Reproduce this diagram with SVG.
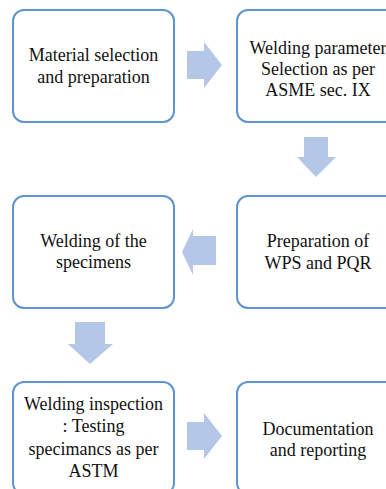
<svg xmlns="http://www.w3.org/2000/svg" width="386" height="489" viewBox="0 0 386 489">
<style>
.box{fill:#fff;stroke:#5f93d3;stroke-width:2}
.arr{fill:#b4c7e7}
.t{font-family:'Liberation Serif','DejaVu Serif','Noto Serif',serif;font-size:18px;fill:#111;text-anchor:middle}
</style>
<rect width="386" height="489" fill="#fff"/>
<g id="connectors">
<polygon class="arr" points="187,51 204,51 204,42 222,65 204,88 204,79 187,79"/>
<polygon class="arr" points="304,137 328,137 328,157 336,157 316,177 297,157 304,157"/>
<polygon class="arr" points="216,236 193,236 193,229 182,252 193,275 193,265 216,265"/>
<polygon class="arr" points="75,322 105,322 105,344 113,344 90,364 68,344 75,344"/>
<polygon class="arr" points="187,422 204,422 204,413 222,436 204,459 204,450 187,450"/>
</g>
<g id="n1"><rect class="box" x="13" y="10" width="161" height="112" rx="11"/>
<text class="t" x="93.5" y="61">Material selection</text><text class="t" x="93.5" y="83">and preparation</text></g>
<g id="n2"><rect class="box" x="237" y="10" width="161" height="112" rx="11"/>
<text class="t" x="318" y="54">Welding parameter</text><text class="t" x="318" y="75">Selection as per</text><text class="t" x="318" y="96">ASME sec. IX</text></g>
<g id="n3"><rect class="box" x="237" y="196" width="161" height="112" rx="11"/>
<text class="t" x="318" y="247">Preparation of</text><text class="t" x="318" y="269">WPS and PQR</text></g>
<g id="n4"><rect class="box" x="13" y="196" width="161" height="112" rx="11"/>
<text class="t" x="93.5" y="247">Welding of the</text><text class="t" x="93.5" y="268">specimens</text></g>
<g id="n5"><rect class="box" x="13" y="382" width="161" height="112" rx="11"/>
<text class="t" x="93.5" y="410">Welding inspection</text><text class="t" x="93.5" y="432">: Testing</text><text class="t" x="93.5" y="455">specimancs as per</text><text class="t" x="93.5" y="477">ASTM</text></g>
<g id="n6"><rect class="box" x="237" y="382" width="161" height="112" rx="11"/>
<text class="t" x="318" y="435">Documentation</text><text class="t" x="318" y="456">and reporting</text></g>
</svg>
